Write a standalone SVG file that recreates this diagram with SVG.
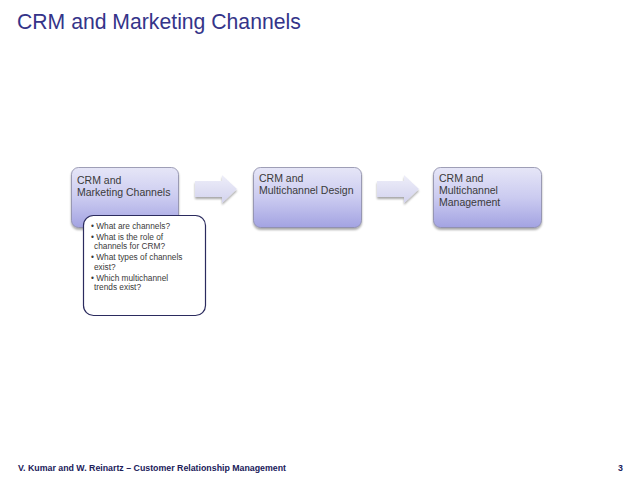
<svg xmlns="http://www.w3.org/2000/svg" width="638" height="479" viewBox="0 0 638 479">
<defs>
<linearGradient id="boxg" x1="0" y1="0" x2="0" y2="1">
<stop offset="0" stop-color="#e6e6f7"/>
<stop offset="0.5" stop-color="#cbcbf0"/>
<stop offset="1" stop-color="#a3a3e2"/>
</linearGradient>
<linearGradient id="arrg" x1="0" y1="0" x2="0" y2="1">
<stop offset="0" stop-color="#eeeef9"/>
<stop offset="1" stop-color="#d3d3ee"/>
</linearGradient>
<filter id="sh" x="-10%" y="-10%" width="130%" height="140%">
<feGaussianBlur in="SourceAlpha" stdDeviation="1.2"/>
<feOffset dx="0" dy="1.5" result="b"/>
<feComponentTransfer><feFuncA type="linear" slope="0.35"/></feComponentTransfer>
<feMerge><feMergeNode/><feMergeNode in="SourceGraphic"/></feMerge>
</filter>
</defs>
<style>
.box{fill:url(#boxg);stroke:#8a8aa6;stroke-width:0.8;}
.arr{fill:url(#arrg);stroke:none;}
.bt{font-family:"Liberation Sans",Arial,sans-serif;font-size:10.5px;fill:#3a3a3a;}
.ov{fill:#ffffff;stroke:#2b2b5e;stroke-width:1.2;}
.lt{font-family:"Liberation Sans",Arial,sans-serif;font-size:8.3px;fill:#3a3a3a;}
.title{font-family:"Liberation Sans",Arial,sans-serif;font-size:21.2px;fill:#343489;}
.foot{font-family:"Liberation Sans",Arial,sans-serif;font-size:8.8px;font-weight:bold;fill:#20205a;}
</style>
<rect width="638" height="479" fill="#ffffff"/>
<text class="title" x="17" y="29">CRM and Marketing Channels</text>
<g id="connectors">
<path class="arr" filter="url(#sh)" d="M195,181 H222 V175 L237,189 L222,203 V197 H195 Z"/>
<path class="arr" filter="url(#sh)" d="M377,181 H404 V175 L419,189 L404,203 V197 H377 Z"/>
</g>
<g id="node1">
<rect class="box" filter="url(#sh)" x="71.5" y="167.5" width="107" height="60" rx="7"/>
<text class="bt" x="77" y="184">CRM and<tspan x="77" dy="12">Marketing Channels</tspan></text>
</g>
<g id="node2">
<rect class="box" filter="url(#sh)" x="253.5" y="167.5" width="108" height="60" rx="7"/>
<text class="bt" x="259" y="182">CRM and<tspan x="259" dy="12">Multichannel Design</tspan></text>
</g>
<g id="node3">
<rect class="box" filter="url(#sh)" x="433.5" y="167.5" width="108" height="60" rx="7"/>
<text class="bt" x="439" y="182">CRM and<tspan x="439" dy="12">Multichannel</tspan><tspan x="439" dy="12">Management</tspan></text>
</g>
<g id="node1-detail">
<rect class="ov" x="83.5" y="215.5" width="122" height="100" rx="10"/>
<text class="lt" x="91" y="229">•  What are channels?</text>
<text class="lt" x="91" y="239.5">•  What is the role of<tspan x="94" dy="9.6">channels for CRM?</tspan></text>
<text class="lt" x="91" y="260">•  What types of channels<tspan x="94" dy="9.6">exist?</tspan></text>
<text class="lt" x="91" y="280.5">•  Which multichannel<tspan x="94" dy="9.6">trends exist?</tspan></text>
</g>
<text class="foot" x="18" y="471">V. Kumar and W. Reinartz – Customer Relationship Management</text>
<text class="foot" x="618" y="471">3</text>
</svg>
